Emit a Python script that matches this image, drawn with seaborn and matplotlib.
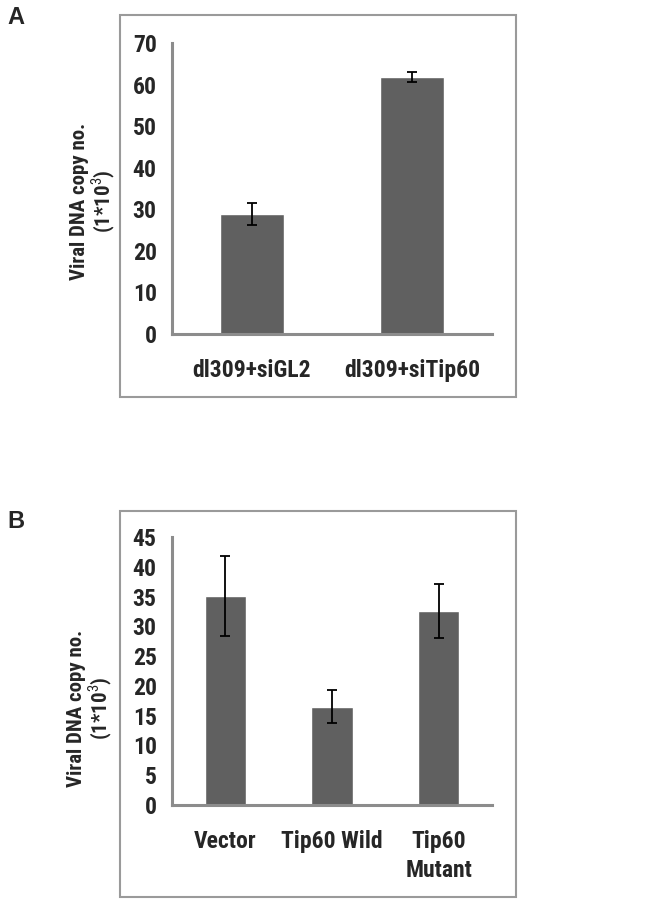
import matplotlib
matplotlib.use('Agg')
import matplotlib.pyplot as plt
import matplotlib.patches as mpatches
from matplotlib import font_manager
import pandas as pd
import seaborn as sns

# panel A
a_groups = ['dl309+siGL2', 'dl309+siTip60']
a_means = [28.8, 61.8]
a_errs = [2.6, 1.3]
a_yticks = [0, 10, 20, 30, 40, 50, 60, 70]

# panel B
b_groups = ['Vector', 'Tip60 Wild', 'Tip60\nMutant']
b_means = [35.1, 16.5, 32.6]
b_errs = [6.7, 2.8, 4.5]
b_yticks = [0, 5, 10, 15, 20, 25, 30, 35, 40, 45]

YLABEL = 'Viral DNA copy no.\n(1*10$^3$)'

sns.set_style('white')
names = {f.name for f in font_manager.fontManager.ttflist}
FONT = 'Liberation Sans'
for cand in ['Liberation Sans Narrow', 'DejaVu Sans Condensed', 'Roboto Condensed']:
    if cand in names:
        FONT = cand
        break
NARROW = FONT != 'Liberation Sans'
plt.rcParams['font.family'] = [FONT, 'DejaVu Sans']
plt.rcParams['mathtext.fontset'] = 'custom'
plt.rcParams['mathtext.rm'] = FONT
plt.rcParams['mathtext.bf'] = FONT + ':bold'

TICK_FS = 17 if NARROW else 15
LABEL_FS = 15 if NARROW else 13
W, H = 649, 907
BAR = '#606060'
AXC = '#8c8c8c'
BOX = '#9a9a9a'

fig = plt.figure(figsize=(W / 100, H / 100), dpi=100)


def px_axes(x0, y0, x1, y1):
    return fig.add_axes([x0 / W, 1 - y1 / H, (x1 - x0) / W, (y1 - y0) / H])


def panel(ax, groups, means, errs, yticks, width, label_xy):
    df = pd.DataFrame({'group': groups, 'value': means})
    sns.barplot(data=df, x='group', y='value', color=BAR, saturation=1,
                width=width, errorbar=None, ax=ax)
    ax.errorbar(range(len(groups)), means, yerr=errs, fmt='none',
                ecolor='black', elinewidth=1.3, capsize=3.5, capthick=1.3)
    n = len(groups)
    ax.set_xlim(-0.5, n - 0.5)
    ax.set_ylim(0, yticks[-1])
    ax.set_yticks(yticks)
    ax.set_yticklabels([str(t) for t in yticks], fontsize=TICK_FS, fontweight='bold')
    ax.set_xticks(range(n))
    ax.set_xticklabels(groups, fontsize=TICK_FS, fontweight='bold', linespacing=1.35)
    ax.set_xticks([i - 0.5 for i in range(n + 1)], minor=True)
    ax.tick_params(axis='x', which='major', length=0, pad=18)
    ax.tick_params(axis='x', which='minor', length=6, width=2, color=AXC,
                   direction='out')
    ax.tick_params(axis='y', length=6, width=2, color=AXC, direction='out', pad=5)
    for s in ['top', 'right']:
        ax.spines[s].set_visible(False)
    for s in ['left', 'bottom']:
        ax.spines[s].set_color(AXC)
        ax.spines[s].set_linewidth(2.2)
    ax.set_xlabel('')
    ax.set_ylabel(YLABEL, fontsize=LABEL_FS, fontweight='bold', linespacing=1.0)
    ax.yaxis.set_label_coords(*label_xy)
    ax.set_facecolor('none')


# outer boxes
for (x0, y0, x1, y1) in [(120, 15, 516, 397), (120, 511, 516, 897)]:
    fig.patches.append(mpatches.Rectangle((x0 / W, 1 - y1 / H), (x1 - x0) / W,
                                          (y1 - y0) / H, transform=fig.transFigure,
                                          fill=False, edgecolor=BOX, linewidth=1.5))

ax_a = px_axes(172, 43, 492, 334)
panel(ax_a, a_groups, a_means, a_errs, a_yticks, 0.4, (-0.172, 0.455))

ax_b = px_axes(172, 537, 492, 805)
panel(ax_b, b_groups, b_means, b_errs, b_yticks, 0.385, (-0.182, 0.36))

fig.text(7 / W, 1 - 18 / H, 'A', fontsize=17, fontweight='bold', va='center',
         family='Liberation Sans')
fig.text(7 / W, 1 - 522 / H, 'B', fontsize=17, fontweight='bold', va='center',
         family='Liberation Sans')

fig.savefig('out.png', dpi=100)
